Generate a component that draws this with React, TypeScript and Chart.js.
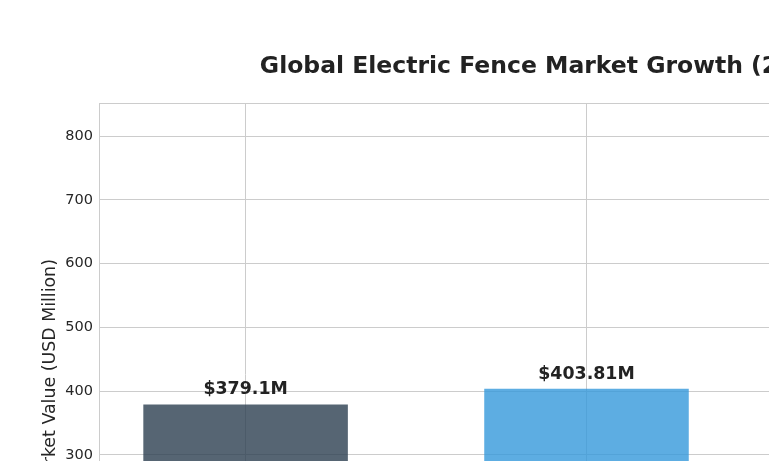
import { useEffect, useRef } from 'react';
import { Chart, registerables } from 'chart.js';

Chart.register(...registerables);

const years = ['2023', '2024', '2025'];
const marketValues = [379.1, 403.81, 425.9];
const barColors = ['rgba(44, 62, 80, 0.8)', 'rgba(52, 152, 219, 0.8)', 'rgba(46, 204, 113, 0.8)'];
const yTicks = [0, 100, 200, 300, 400, 500, 600, 700, 800];
const yMax = 852;

const TEXT = '#262626';
const GRID = '#cccccc';
const FONT = '"DejaVu Sans", sans-serif';

// full figure is bigger than the window, the page only shows its upper-left part
const CANVAS_W = 1157;
const CANVAS_H = 720;

// light grey box round the plot area (all four spines)
const framePlugin = {
  id: 'frame',
  beforeDatasetsDraw(chart: Chart) {
    const { ctx, chartArea: a } = chart;
    ctx.save();
    ctx.strokeStyle = GRID;
    ctx.lineWidth = 1;
    ctx.strokeRect(a.left + 0.5, a.top + 0.5, a.right - a.left - 1, a.bottom - a.top - 1);
    ctx.restore();
  },
};

const valueLabels = {
  id: 'valueLabels',
  afterDatasetsDraw(chart: Chart) {
    const { ctx } = chart;
    const meta = chart.getDatasetMeta(0);
    ctx.save();
    ctx.font = `bold 17.4px ${FONT}`;
    ctx.fillStyle = '#222222';
    ctx.textAlign = 'center';
    ctx.textBaseline = 'alphabetic';
    meta.data.forEach((bar: any, i: number) => {
      ctx.fillText(`$${marketValues[i]}M`, bar.x, bar.y - 10);
    });
    ctx.restore();
  },
};

export default function App() {
  const chartRef = useRef<HTMLCanvasElement>(null);
  const chartInstance = useRef<Chart | null>(null);

  useEffect(() => {
    if (!chartRef.current) return;
    const ctx = chartRef.current.getContext('2d');
    if (!ctx) return;

    // matplotlib style x margins: bar width 0.6 plus 5% padding
    const span = years.length - 1 + 0.6;
    const xMin = -0.3 - 0.05 * span;
    const xMax = years.length - 1 + 0.3 + 0.05 * span;

    chartInstance.current = new Chart(ctx, {
      type: 'bar',
      data: {
        datasets: [{
          label: 'Market Value',
          data: marketValues.map((v, i) => ({ x: i, y: v })),
          backgroundColor: barColors,
          borderWidth: 0,
          barPercentage: 0.6,
          categoryPercentage: 1,
        }],
      },
      options: {
        responsive: false,
        animation: false,
        layout: { padding: 0 },
        plugins: {
          legend: { display: false },
          tooltip: { enabled: false },
          title: {
            display: true,
            text: 'Global Electric Fence Market Growth (2023-2025)',
            color: '#222222',
            font: { family: FONT, size: 23.5, weight: 'bold', lineHeight: 1.2 },
            padding: { top: 44.5, bottom: 22.3 },
          },
        },
        scales: {
          x: {
            type: 'linear',
            min: xMin,
            max: xMax,
            offset: false,
            afterBuildTicks: (scale: any) => {
              scale.ticks = years.map((_, i) => ({ value: i }));
            },
            afterFit: (scale: any) => {
              scale.height = 82;
            },
            grid: { color: GRID, lineWidth: 1, drawTicks: false, offset: false },
            border: { display: false },
            ticks: {
              color: TEXT,
              font: { family: FONT, size: 14.5 },
              padding: 6,
              callback: (v: any) => years[v] ?? '',
            },
            title: {
              display: true,
              text: 'Year',
              color: TEXT,
              font: { family: FONT, size: 17.4 },
            },
          },
          y: {
            min: 0,
            max: yMax,
            afterBuildTicks: (scale: any) => {
              scale.ticks = yTicks.map(v => ({ value: v }));
            },
            afterFit: (scale: any) => {
              scale.width = 91;
            },
            grid: { color: GRID, lineWidth: 1, drawTicks: false },
            border: { display: false },
            ticks: {
              color: TEXT,
              font: { family: FONT, size: 14.5 },
              padding: 6,
            },
            title: {
              display: true,
              text: 'Market Value (USD Million)',
              color: TEXT,
              font: { family: FONT, size: 17.4, lineHeight: 1.2 },
              padding: { top: 32, bottom: 0 },
            },
          },
          // empty right gutter so the title sits over the plot centre
          y2: {
            type: 'linear',
            position: 'right',
            display: true,
            grid: { display: false },
            border: { display: false },
            ticks: { display: false },
            afterFit: (scale: any) => {
              scale.width = 91;
            },
          },
        },
      },
      plugins: [framePlugin, valueLabels],
    } as any);

    return () => {
      if (chartInstance.current) {
        chartInstance.current.destroy();
        chartInstance.current = null;
      }
    };
  }, []);

  return (
    <div style={{ position: 'fixed', inset: 0, overflow: 'hidden', background: '#fff' }}>
      <canvas
        ref={chartRef}
        width={CANVAS_W}
        height={CANVAS_H}
        style={{ position: 'absolute', left: 8, top: 8, display: 'block' }}
      ></canvas>
    </div>
  );
}
